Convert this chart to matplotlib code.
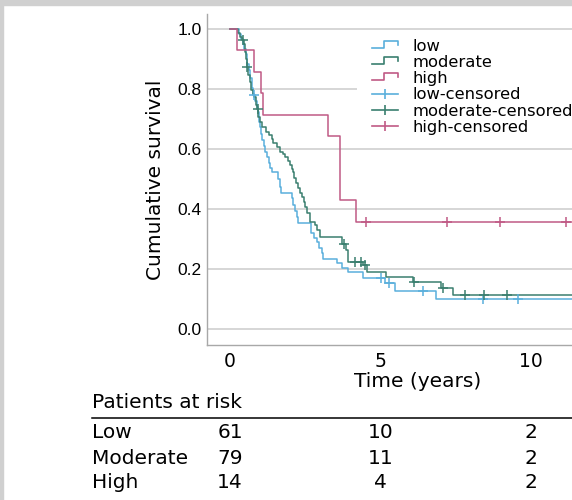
import numpy as np
import matplotlib
matplotlib.use("Agg")
import matplotlib.pyplot as plt
import matplotlib.transforms as mtransforms
from matplotlib.lines import Line2D
from matplotlib.patches import Rectangle

# Kaplan-Meier steps: time (years) -> survival after the step
low_t = [0, 0.30, 0.36, 0.42, 0.47, 0.52, 0.57, 0.62, 0.67, 0.72, 0.78, 0.84, 0.88, 0.92, 0.97,
         1.00, 1.04, 1.07, 1.12, 1.16, 1.22, 1.30, 1.34, 1.38, 1.60, 1.65, 1.69, 2.05, 2.10, 2.16,
         2.21, 2.27, 2.70, 2.80, 2.88, 2.97, 3.05, 3.10, 3.54, 3.71, 3.93, 4.41, 5.15, 5.48, 6.84]
low_s = [1.0, 0.984, 0.967, 0.951, 0.934, 0.918, 0.885, 0.862, 0.836, 0.803, 0.780, 0.760, 0.740,
         0.722, 0.690, 0.672, 0.650, 0.630, 0.610, 0.591, 0.572, 0.552, 0.538, 0.522, 0.500, 0.475,
         0.452, 0.436, 0.413, 0.393, 0.374, 0.352, 0.319, 0.302, 0.291, 0.269, 0.252, 0.232, 0.219,
         0.202, 0.191, 0.169, 0.152, 0.128, 0.100]
low_cens = [0.80, 5.00, 5.28, 6.40, 8.40, 9.55]

mod_t = [0, 0.28, 0.34, 0.40, 0.45, 0.49, 0.52, 0.56, 0.60, 0.65, 0.70, 0.75, 0.80, 0.85, 0.90,
         0.94, 1.00, 1.05, 1.19, 1.30, 1.38, 1.44, 1.55, 1.66, 1.75, 1.83, 1.92, 1.99, 2.05, 2.10,
         2.14, 2.18, 2.27, 2.34, 2.40, 2.45, 2.49, 2.55, 2.66, 2.82, 2.88, 2.99, 3.72, 3.86, 3.93,
         4.41, 4.54, 5.18, 6.09, 7.00, 7.40]
mod_s = [1.0, 0.987, 0.975, 0.962, 0.949, 0.924, 0.899, 0.873, 0.848, 0.823, 0.798, 0.785, 0.772,
         0.747, 0.734, 0.708, 0.690, 0.674, 0.658, 0.648, 0.635, 0.619, 0.608, 0.591, 0.582, 0.574,
         0.560, 0.547, 0.535, 0.524, 0.505, 0.486, 0.469, 0.455, 0.441, 0.425, 0.408, 0.386, 0.358,
         0.347, 0.330, 0.308, 0.284, 0.263, 0.224, 0.213, 0.191, 0.172, 0.156, 0.136, 0.113]
mod_cens = [0.44, 0.58, 0.93, 3.77, 4.15, 4.35, 4.47, 6.12, 7.07, 7.82, 8.42, 9.20]

high_t = [0, 0.23, 0.79, 1.04, 1.10, 3.27, 3.66, 4.17]
high_s = [1.0, 0.929, 0.857, 0.786, 0.714, 0.643, 0.429, 0.357]
high_cens = [4.52, 7.20, 8.96, 11.16]

follow_up_end = 12.5

groups = ["low", "moderate", "high"]
colors = ["#5aafdc", "#3a7f6f", "#c05a85"]

risk_rows = ["Low", "Moderate", "High"]
risk_times = [0, 5, 10]
risk_counts = [[61, 10, 2], [79, 11, 2], [14, 4, 2]]


class StepHandle:
    def legend_artist(self, legend, orig_handle, fontsize, handlebox):
        w, h = handlebox.width, handlebox.height
        x0 = w * 0.32
        xs = [x0, x0 + (w - x0) * 0.45, x0 + (w - x0) * 0.45, w, w]
        ys = [h * 0.25, h * 0.25, h * 0.85, h * 0.85, h * 0.55]
        line = Line2D(xs, ys, color=orig_handle.get_color(), lw=1.2)
        handlebox.add_artist(line)
        return line


class CensHandle:
    def legend_artist(self, legend, orig_handle, fontsize, handlebox):
        w, h = handlebox.width, handlebox.height
        x0 = w * 0.32
        c = orig_handle.get_color()
        line = Line2D([x0, w], [h * 0.5, h * 0.5], color=c, lw=1.2)
        tick = Line2D([(x0 + w) / 2], [h * 0.5], color=c, marker="|", markersize=7.5, mew=1.2)
        handlebox.add_artist(line)
        handlebox.add_artist(tick)
        return line


def main():
    fig = plt.figure(figsize=(5.72, 5.0), dpi=100)
    ax = fig.add_axes([207 / 572, 1 - 345 / 500, (629 - 207) / 572, (345 - 14) / 500])

    # grey frame of the screenshot
    fig.patches.append(Rectangle((0, 1 - 5 / 500), 1, 5 / 500, transform=fig.transFigure,
                                 color="#d0d0d0", zorder=0))
    fig.patches.append(Rectangle((0, 0), 3 / 572, 1, transform=fig.transFigure,
                                 color="#d0d0d0", zorder=0))

    data = [(low_t, low_s, low_cens), (mod_t, mod_s, mod_cens), (high_t, high_s, high_cens)]
    step_handles = []
    cens_handles = []
    for (t, s, cens), name, col in zip(data, groups, colors):
        t = np.array(t)
        s = np.array(s)
        ln, = ax.step(np.append(t, follow_up_end), np.append(s, s[-1]), where="post",
                      color=col, lw=1.1, label=name, zorder=3)
        idx = np.searchsorted(t, cens, side="right") - 1
        mk, = ax.plot(cens, s[idx], ls="none", marker="+", markersize=6.5, mew=1.1,
                      color=col, zorder=4)
        step_handles.append(ln)
        cens_handles.append(mk)

    ax.set_xlim(-0.764, 13.25)
    ax.set_ylim(-0.053, 1.05)
    ax.set_xticks(risk_times)
    ax.set_yticks([0.0, 0.2, 0.4, 0.6, 0.8, 1.0])
    ax.set_yticklabels(["0.0", "0.2", "0.4", "0.6", "0.8", "1.0"], family="Liberation Sans",
                       fontsize=12.5)
    ax.tick_params(axis="x", length=0, pad=5, labelsize=13.5)
    ax.tick_params(axis="y", length=0, pad=4)
    ax.yaxis.grid(True, color="#cfcfcf", lw=1.2)
    ax.set_axisbelow(True)
    for sp in ["top", "right"]:
        ax.spines[sp].set_visible(False)
    for sp in ["left", "bottom"]:
        ax.spines[sp].set_color("#a8a8a8")
        ax.spines[sp].set_linewidth(1.0)

    ax.set_xlabel("Time (years)", fontsize=14.5, labelpad=1)
    ax.set_ylabel("Cumulative survival", fontsize=14.5, labelpad=9)

    handler_map = {h: StepHandle() for h in step_handles}
    handler_map.update({h: CensHandle() for h in cens_handles})
    leg = ax.legend(step_handles + cens_handles,
                    groups + [g + "-censored" for g in groups],
                    handler_map=handler_map, loc="upper left",
                    bbox_to_anchor=(357 / 572, 1 - 36 / 500), bbox_transform=fig.transFigure,
                    borderaxespad=0, borderpad=0.18, labelspacing=0.07, handlelength=2.3,
                    handletextpad=0.9, fontsize=11.8, frameon=True, fancybox=False)
    leg.get_frame().set_facecolor("white")
    leg.get_frame().set_edgecolor("none")
    leg.get_frame().set_alpha(1)

    # patients at risk table
    fig.text(92 / 572, 1 - 403 / 500, "Patients at risk", fontsize=14.5, va="center", ha="left")
    fig.add_artist(Line2D([92 / 572, 1.0], [1 - 418 / 500, 1 - 418 / 500], color="black",
                          lw=1.1, transform=fig.transFigure))
    trans = mtransforms.blended_transform_factory(ax.transData, fig.transFigure)
    for i, (row, counts) in enumerate(zip(risk_rows, risk_counts)):
        y = 1 - (433 + 25 * i) / 500
        fig.text(92 / 572, y, row, fontsize=14.5, va="center", ha="left")
        for tt, n in zip(risk_times, counts):
            ax.text(tt, y, str(n), transform=trans, fontsize=14.5, va="center", ha="center",
                    clip_on=False)

    fig.savefig("out.png", dpi=100)


if __name__ == "__main__":
    main()
